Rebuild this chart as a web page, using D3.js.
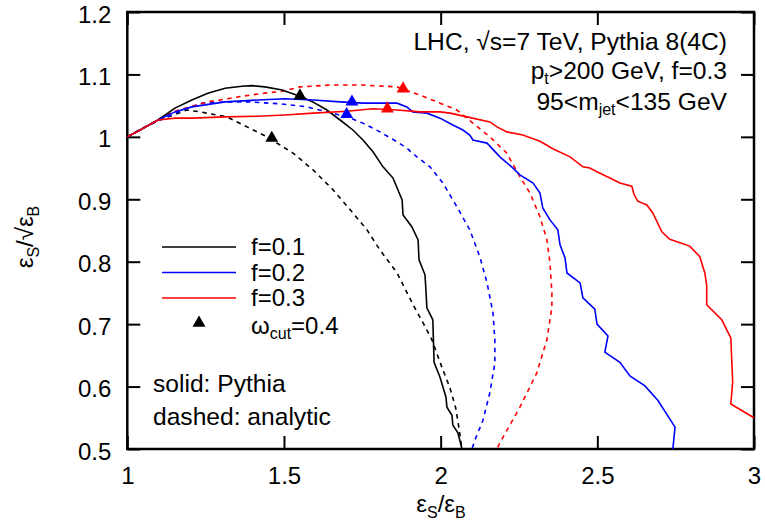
<!DOCTYPE html>
<html><head><meta charset="utf-8">
<script src="https://cdn.jsdelivr.net/npm/d3@7"></script>
<style>
body{margin:0;background:#fff;}
text{font-family:"Liberation Sans",Arial,sans-serif;fill:#000;}
</style></head>
<body><svg id="c" width="765" height="530"></svg>
<script>
// ---- data (x = eps_S/eps_B, y = eps_S/sqrt(eps_B)) ----
const xTicks = [1, 1.5, 2, 2.5, 3];
const yTicks = [0.5, 0.6, 0.7, 0.8, 0.9, 1, 1.1, 1.2];
const xTickLabels = ["1", "1.5", "2", "2.5", "3"];
const yTickLabels = ["0.5", "0.6", "0.7", "0.8", "0.9", "1", "1.1", "1.2"];

const pythia01 = [[1,1],[1.041,1.011],[1.098,1.027],[1.152,1.046],[1.206,1.059],[1.257,1.070],[1.312,1.078],[1.366,1.081],[1.398,1.082],[1.439,1.080],[1.494,1.075],[1.551,1.065],[1.592,1.056],[1.637,1.043],[1.679,1.027],[1.720,1.011],[1.752,0.995],[1.784,0.976],[1.816,0.952],[1.848,0.934],[1.877,0.899],[1.880,0.875],[1.908,0.856],[1.928,0.835],[1.931,0.803],[1.950,0.779],[1.953,0.755],[1.956,0.726],[1.975,0.707],[1.979,0.639],[1.998,0.615],[2.017,0.583],[2.020,0.567],[2.036,0.554],[2.039,0.538],[2.055,0.526],[2.061,0.514],[2.068,0.500]];
const analytic01 = [[1,1],[1.057,1.016],[1.104,1.027],[1.190,1.043],[1.232,1.040],[1.318,1.032],[1.382,1.016],[1.446,1.000],[1.529,0.974],[1.593,0.947],[1.657,0.915],[1.720,0.878],[1.765,0.851],[1.806,0.819],[1.861,0.782],[1.912,0.731],[1.944,0.702],[1.972,0.675],[2.004,0.631],[2.029,0.599],[2.048,0.566],[2.058,0.535],[2.064,0.514],[2.068,0.500]];
const pythia02 = [[1,1],[1.041,1.011],[1.098,1.027],[1.152,1.040],[1.206,1.048],[1.312,1.056],[1.417,1.059],[1.503,1.061],[1.593,1.059],[1.679,1.056],[1.752,1.054],[1.861,1.054],[1.892,1.048],[1.911,1.040],[1.956,1.038],[1.998,1.030],[2.039,1.019],[2.071,1.011],[2.093,1.003],[2.103,0.995],[2.148,0.990],[2.189,0.968],[2.231,0.950],[2.253,0.939],[2.295,0.926],[2.317,0.910],[2.326,0.886],[2.349,0.867],[2.374,0.851],[2.381,0.827],[2.397,0.806],[2.403,0.782],[2.445,0.766],[2.454,0.742],[2.492,0.724],[2.499,0.700],[2.534,0.681],[2.524,0.655],[2.572,0.639],[2.604,0.617],[2.652,0.601],[2.693,0.578],[2.748,0.535],[2.741,0.500]];
const analytic02 = [[1,1],[1.057,1.016],[1.104,1.027],[1.168,1.041],[1.238,1.054],[1.312,1.056],[1.385,1.056],[1.487,1.053],[1.573,1.048],[1.637,1.040],[1.701,1.032],[1.752,1.022],[1.806,1.008],[1.861,0.992],[1.892,0.982],[1.924,0.968],[1.966,0.952],[2.007,0.926],[2.052,0.888],[2.093,0.851],[2.125,0.808],[2.148,0.766],[2.167,0.718],[2.173,0.675],[2.173,0.638],[2.157,0.590],[2.135,0.546],[2.109,0.514],[2.100,0.500]];
const pythia03 = [[1,1],[1.041,1.011],[1.098,1.027],[1.152,1.030],[1.206,1.030],[1.312,1.032],[1.417,1.033],[1.503,1.035],[1.593,1.038],[1.701,1.041],[1.784,1.045],[1.861,1.043],[1.934,1.040],[1.998,1.040],[2.030,1.038],[2.084,1.032],[2.157,1.024],[2.180,1.016],[2.211,1.008],[2.262,1.003],[2.317,0.993],[2.358,0.981],[2.413,0.968],[2.454,0.952],[2.476,0.950],[2.499,0.944],[2.540,0.934],[2.572,0.926],[2.610,0.921],[2.617,0.908],[2.629,0.897],[2.658,0.891],[2.677,0.878],[2.706,0.848],[2.731,0.836],[2.795,0.825],[2.827,0.808],[2.843,0.782],[2.849,0.763],[2.849,0.731],[2.897,0.707],[2.926,0.678],[2.929,0.643],[2.932,0.607],[2.926,0.572],[3.000,0.550]];
const analytic03 = [[1,1],[1.057,1.016],[1.143,1.040],[1.257,1.056],[1.366,1.065],[1.439,1.070],[1.494,1.073],[1.551,1.080],[1.647,1.083],[1.752,1.083],[1.861,1.080],[1.934,1.067],[1.998,1.054],[2.052,1.043],[2.103,1.022],[2.157,1.000],[2.211,0.974],[2.253,0.936],[2.285,0.910],[2.317,0.872],[2.339,0.835],[2.349,0.798],[2.355,0.750],[2.355,0.727],[2.339,0.675],[2.307,0.622],[2.253,0.567],[2.189,0.510],[2.180,0.500]];
// omega_cut = 0.4 points: [x, y]
const wcut01 = [[1.551,1.066],[1.461,0.998]];
const wcut02 = [[1.717,1.056],[1.700,1.036]];
const wcut03 = [[1.880,1.077],[1.830,1.045]];

const seriesNames = ["f=0.1", "f=0.2", "f=0.3"];
const seriesColors = ["#000000", "#0000ff", "#ff0000"];

// ---- chart ----
const svg = d3.select("#c");
const L = 127.3, R = 754, T = 12, B = 449;
const x = d3.scaleLinear().domain([1, 3]).range([L, R]);
const y = d3.scaleLinear().domain([0.5, 1.2]).range([B, T]);
const FS = 24, FA = 24.6, SUB = 16;

svg.append("defs").append("clipPath").attr("id","clip")
  .append("rect").attr("x",L).attr("y",T).attr("width",R-L).attr("height",B-T);

// axes with inward ticks
const tl = 13;
const gx = svg.append("g").attr("transform",`translate(0,${B})`)
  .call(d3.axisBottom(x).tickValues(xTicks).tickSize(-tl).tickFormat((d,i)=>xTickLabels[i]).tickPadding(18));
const gxt = svg.append("g").attr("transform",`translate(0,${T})`)
  .call(d3.axisTop(x).tickValues(xTicks).tickSize(-tl).tickFormat(""));
const gy = svg.append("g").attr("transform",`translate(${L},0)`)
  .call(d3.axisLeft(y).tickValues(yTicks).tickSize(-tl).tickFormat((d,i)=>yTickLabels[i]).tickPadding(16));
const gyr = svg.append("g").attr("transform",`translate(${R},0)`)
  .call(d3.axisRight(y).tickValues(yTicks).tickSize(-tl).tickFormat(""));
[gx,gxt,gy,gyr].forEach(g=>{
  g.select(".domain").remove();
  g.selectAll(".tick line").attr("stroke","#000").attr("stroke-width",2);
  g.selectAll("text").style("font-family","Liberation Sans, Arial, sans-serif").style("font-size",FS+"px").attr("fill","#000");
});
gy.selectAll(".tick text").attr("dy","0.42em");

// frame
svg.append("rect").attr("x",L).attr("y",T).attr("width",R-L).attr("height",B-T)
  .attr("fill","none").attr("stroke","#000").attr("stroke-width",2.5);

const line = d3.line().x(d=>x(d[0])).y(d=>y(d[1]));
const plot = svg.append("g").attr("clip-path","url(#clip)");
const analytic = [analytic01, analytic02, analytic03];
const pythia = [pythia01, pythia02, pythia03];
const wcut = [wcut01, wcut02, wcut03];
analytic.forEach((d,i)=>plot.append("path").datum(d).attr("d",line).attr("fill","none")
  .attr("stroke",seriesColors[i]).attr("stroke-width",1.6).attr("stroke-dasharray","4.5,4.5"));
pythia.forEach((d,i)=>plot.append("path").datum(d).attr("d",line).attr("fill","none")
  .attr("stroke",seriesColors[i]).attr("stroke-width",1.6));
const tri = d3.symbol().type(d3.symbolTriangle).size(72);
wcut.forEach((pts,i)=>pts.forEach(p=>svg.append("path").attr("d",tri)
  .attr("transform",`translate(${x(p[0])},${y(p[1])})`).attr("fill",seriesColors[i])));

// legend
const lg = svg.append("g");
seriesNames.forEach((n,i)=>{
  const ly = 247 + i*25.5;
  lg.append("line").attr("x1",162).attr("x2",236).attr("y1",ly).attr("y2",ly)
    .attr("stroke",seriesColors[i]).attr("stroke-width",1.6);
  lg.append("text").attr("x",251).attr("y",ly+8).style("font-size",FS+"px").text(n);
});
lg.append("path").attr("d",tri).attr("transform","translate(199,323)").attr("fill","#000");
const wt = lg.append("text").attr("x",251).attr("y",333.5).style("font-size",FS+"px");
wt.append("tspan").text("ω");
wt.append("tspan").attr("dy",5).style("font-size",SUB+"px").text("cut");
wt.append("tspan").attr("dy",-5).text("=0.4");

svg.append("text").attr("x",153).attr("y",392).style("font-size",FA+"px").text("solid: Pythia");
svg.append("text").attr("x",153).attr("y",425).style("font-size",FA+"px").text("dashed: analytic");

// top-right annotations
const a1 = svg.append("text").attr("x",727).attr("y",50).attr("text-anchor","end").style("font-size",FA+"px");
a1.text("LHC, √s=7 TeV, Pythia 8(4C)");
const a2 = svg.append("text").attr("x",727).attr("y",79).attr("text-anchor","end").style("font-size",FA+"px");
a2.append("tspan").text("p");
a2.append("tspan").attr("dy",5).style("font-size",SUB+"px").text("t");
a2.append("tspan").attr("dy",-5).text(">200 GeV, f=0.3");
const a3 = svg.append("text").attr("x",727).attr("y",110).attr("text-anchor","end").style("font-size",FA+"px");
a3.append("tspan").text("95<m");
a3.append("tspan").attr("dy",5).style("font-size",SUB+"px").text("jet");
a3.append("tspan").attr("dy",-5).text("<135 GeV");

// axis titles
const xt = svg.append("text").attr("x",441).attr("y",512).attr("text-anchor","middle").style("font-size",FS+"px");
xt.append("tspan").text("ε");
xt.append("tspan").attr("dy",6).style("font-size",SUB+"px").text("S");
xt.append("tspan").attr("dy",-6).text("/ε");
xt.append("tspan").attr("dy",6).style("font-size",SUB+"px").text("B");

const yt = svg.append("text").attr("transform","translate(33,237) rotate(-90)").attr("text-anchor","middle").style("font-size",FS+"px");
yt.append("tspan").text("ε");
yt.append("tspan").attr("dy",6).style("font-size",SUB+"px").text("S");
yt.append("tspan").attr("dy",-6).text("/√ε");
yt.append("tspan").attr("dy",6).style("font-size",SUB+"px").text("B");
</script></body></html>
